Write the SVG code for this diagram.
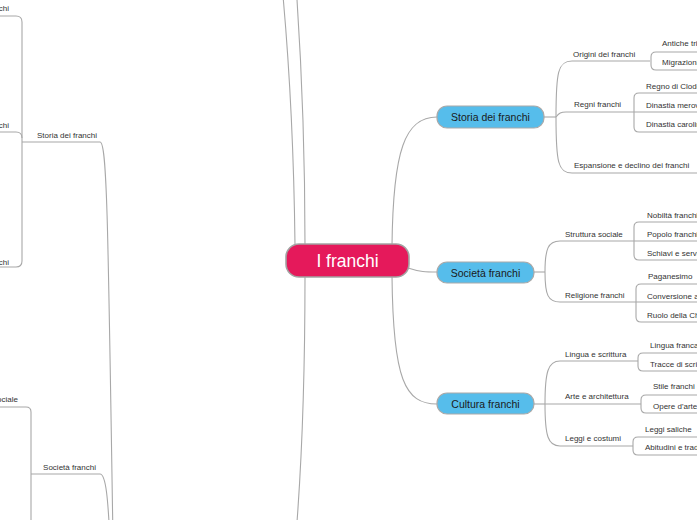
<svg xmlns="http://www.w3.org/2000/svg" width="697" height="520" viewBox="0 0 697 520">
<style>
.c{fill:none;stroke:#a8a8a8;stroke-width:1.1}
.s{font-family:"Liberation Sans",Arial,sans-serif;font-size:8px;fill:#333}
.n{font-family:"Liberation Sans",Arial,sans-serif;font-size:10.5px;fill:#1a1a1a;text-anchor:middle}
.b{fill:#56bdeb;stroke:#a9a9a9;stroke-width:1.2}
.e{text-anchor:end}
</style>
<rect width="697" height="520" fill="#fff"/>
<g id="connectors">
<path class="c" d="M295 245 C294 160 290 70 282 -15"/>
<path class="c" d="M305 245 C305 160 302 70 296 -15"/>
<path class="c" d="M305 276 C305 380 302 460 296 535"/>
<path class="c" d="M392 246 C393 150 405 117 437 117"/>
<path class="c" d="M408 268 C420 272 426 272 437 272"/>
<path class="c" d="M392 276 C393 380 405 404 437 404"/>
<path class="c" d="M544 117 L556 117"/>
<path class="c" d="M556 117 C556 72 558 61 572 61 L650 61"/>
<path class="c" d="M556 117 C559 113 561 112 566 112 L634 112"/>
<path class="c" d="M556 117 C556 162 558 173 572 173 L697 173"/>
<path class="c" d="M697 52 L656 52 Q651 52 651 57 L651 65 Q651 70 656 70 L697 70"/>
<path class="c" d="M697 93 L639 93 Q634 93 634 98 L634 127 Q634 132 639 132 L697 132 M634 112 L697 112"/>
<path class="c" d="M534 272 L545 272"/>
<path class="c" d="M545 272 C545 249 548 241 560 241 L634 241"/>
<path class="c" d="M545 272 C545 295 548 302 560 302 L636 302"/>
<path class="c" d="M697 222 L639 222 Q634 222 634 227 L634 255 Q634 260 639 260 L697 260 M634 241 L697 241"/>
<path class="c" d="M697 284 L641 284 Q636 284 636 289 L636 317 Q636 322 641 322 L697 322 M636 302 L697 302"/>
<path class="c" d="M534 404 L545 404"/>
<path class="c" d="M545 404 C545 372 548 361 560 361 L638 361"/>
<path class="c" d="M545 404 L641 404"/>
<path class="c" d="M545 404 C545 436 548 446 560 446 L633 446"/>
<path class="c" d="M697 353 L643 353 Q638 353 638 358 L638 366 Q638 371 643 371 L697 371"/>
<path class="c" d="M697 395 L646 395 Q641 395 641 400 L641 408 Q641 413 646 413 L697 413"/>
<path class="c" d="M697 437 L638 437 Q633 437 633 442 L633 450 Q633 455 638 455 L697 455"/>
<path class="c" d="M0 16 L16 16 Q22 16 22 22 L22 261 Q22 267 16 267 L0 267"/>
<path class="c" d="M0 132 L16 132 Q22 132 22 138"/>
<path class="c" d="M22 142 L100 142 C107 142 108 220 113 540"/>
<path class="c" d="M0 407 L26 407 Q31 407 31 412 L31 540"/>
<path class="c" d="M31 474 L100 474 C106 474 108 500 110 540"/>
</g>
<g id="root">
<rect x="286" y="244" width="123" height="33" rx="13" fill="#e5195b" stroke="#a3a3a3" stroke-width="1.6"/>
<text x="347.5" y="267" font-family="Liberation Sans,Arial,sans-serif" font-size="17.5" fill="#fff" text-anchor="middle">I franchi</text>
</g>
<g id="storia">
<rect class="b" x="437" y="106" width="107" height="22" rx="10"/>
<text class="n" x="490.5" y="121">Storia dei franchi</text>
</g>
<g id="societa">
<rect class="b" x="437" y="262" width="97" height="21" rx="10"/>
<text class="n" x="485.5" y="276.5">Società franchi</text>
</g>
<g id="cultura">
<rect class="b" x="437" y="393" width="97" height="21" rx="10"/>
<text class="n" x="485.5" y="407.5">Cultura franchi</text>
</g>
<g id="origini"><text class="s" x="573" y="57">Origini dei franchi</text></g>
<g id="antiche"><text class="s" x="662" y="46">Antiche tribù</text></g>
<g id="migrazioni"><text class="s" x="662" y="65">Migrazioni</text></g>
<g id="regni"><text class="s" x="574" y="107">Regni franchi</text></g>
<g id="clodoveo"><text class="s" x="646" y="89">Regno di Clodoveo</text></g>
<g id="merovingia"><text class="s" x="646" y="108">Dinastia merovingia</text></g>
<g id="carolingia"><text class="s" x="646" y="127">Dinastia carolingia</text></g>
<g id="espansione"><text class="s" x="574" y="168">Espansione e declino dei franchi</text></g>
<g id="struttura"><text class="s" x="565" y="237">Struttura sociale</text></g>
<g id="nobilta"><text class="s" x="647" y="218">Nobiltà franchi</text></g>
<g id="popolo"><text class="s" x="647" y="237">Popolo franchi</text></g>
<g id="schiavi"><text class="s" x="647" y="256">Schiavi e servi</text></g>
<g id="religione"><text class="s" x="565" y="298">Religione franchi</text></g>
<g id="paganesimo"><text class="s" x="648" y="279">Paganesimo</text></g>
<g id="conversione"><text class="s" x="647" y="299">Conversione al cristianesimo</text></g>
<g id="chiesa"><text class="s" x="647" y="318">Ruolo della Chiesa</text></g>
<g id="lingua"><text class="s" x="565" y="357">Lingua e scrittura</text></g>
<g id="franca"><text class="s" x="650" y="348">Lingua franca</text></g>
<g id="tracce"><text class="s" x="650" y="367">Tracce di scrittura</text></g>
<g id="arte"><text class="s" x="565" y="399">Arte e architettura</text></g>
<g id="stile"><text class="s" x="653" y="389">Stile franchi</text></g>
<g id="opere"><text class="s" x="653" y="409">Opere d'arte</text></g>
<g id="leggi"><text class="s" x="565" y="441">Leggi e costumi</text></g>
<g id="saliche"><text class="s" x="645" y="432">Leggi saliche</text></g>
<g id="abitudini"><text class="s" x="645" y="450">Abitudini e tradizioni</text></g>
<g id="l-storia"><text class="s e" x="97" y="138">Storia dei franchi</text></g>
<g id="l-origini"><text class="s e" x="9" y="11">Origini dei franchi</text></g>
<g id="l-regni"><text class="s e" x="9" y="128">Regni franchi</text></g>
<g id="l-espansione"><text class="s e" x="9" y="265">Espansione e declino dei franchi</text></g>
<g id="l-struttura"><text class="s e" x="18" y="402">Struttura sociale</text></g>
<g id="l-societa"><text class="s e" x="96" y="470">Società franchi</text></g>
</svg>
